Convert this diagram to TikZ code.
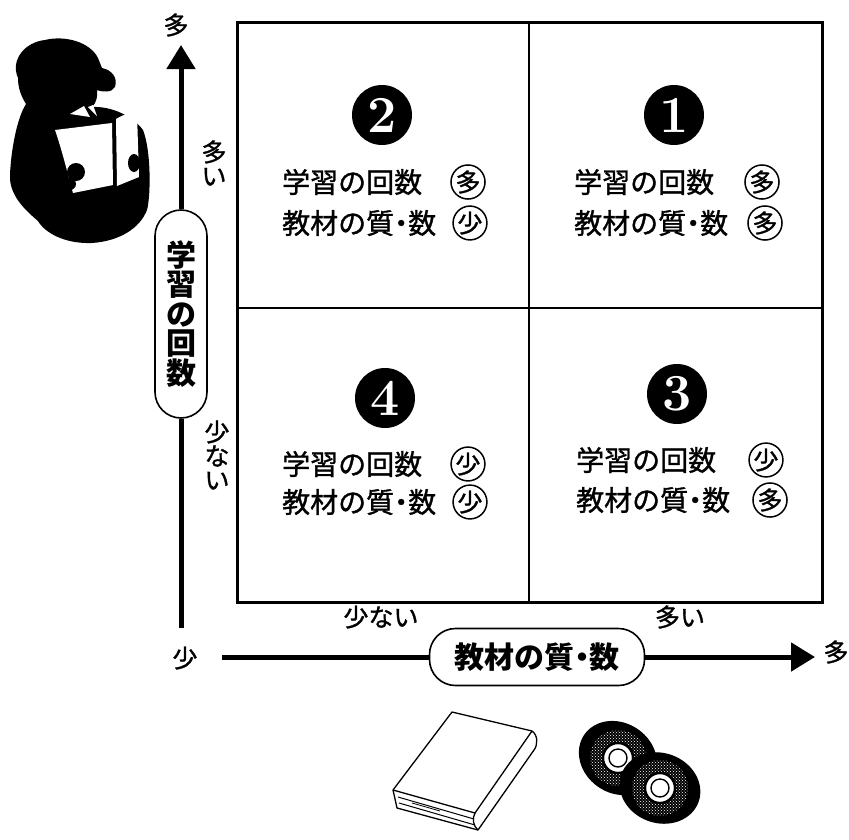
\documentclass[tikz,border=0pt]{standalone}
\usepackage{fontspec}
\newfontfamily\jp{Noto Sans CJK JP}
\newfontfamily\jpmid{Noto Sans CJK JP}[FakeBold=1.2]
\usetikzlibrary{arrows.meta,positioning,patterns}

% narrow middle dot between kanji
\newcommand{\nakaguro}{\kern-.25em・\kern-.25em}

\begin{document}
\begin{tikzpicture}[
    x=1pt, y=-1pt,
    frame/.style = {line width=3pt},
    axis/.style = {line width=5pt},
    axisarrow/.style = {axis, -{Triangle[length=24pt,width=28pt]}},
    axislabel/.style = {draw, line width=1.6pt, fill=white, rounded corners=26pt, align=center, inner sep=0pt, font=\jp\bfseries\fontsize{30}{29.5}\selectfont},
    sidelabel/.style = {align=center, inner sep=0pt, font=\jpmid\fontsize{25}{24}\selectfont},
    qnum/.style = {circle, fill=black, text=white, minimum size=60pt, inner sep=0pt, font=\bfseries\fontsize{52}{52}\selectfont},
    qtext/.style = {anchor=west, inner sep=0pt, font=\jpmid\fontsize{28}{28}\selectfont},
    qmark/.style = {circle, draw, line width=1.5pt, minimum size=33pt, inner sep=0pt, font=\jpmid\fontsize{25}{25}\selectfont},
    line/.style = {line width=1.3pt, line join=round}
]
\useasboundingbox (0,0) rectangle (849,839);

% Grid
\coordinate (nw) at (237,22);
\coordinate (se) at (822,602);
\draw [frame] (nw) rectangle (se);
\draw [frame, line width=1.8pt] (529,22) -- (529,602);
\draw [frame, line width=1.8pt] (237,308) -- (822,308);

% Vertical axis
\node [axislabel, minimum width=52pt, minimum height=208pt] (ylab) at (181,314) {学\\習\\の\\回\\数};
\coordinate (ybot) at (181,628);
\coordinate (ytop) at (181,45);
\draw [axis] (ybot) -- (ylab);
\draw [axisarrow] (ylab) -- (ytop);
\node [sidelabel] (ymax) at (176,25) {多};
\node [sidelabel] (yhigh) at (214,163) {多\\い};
\node [sidelabel] (ylow) at (217,455) {少\\な\\い};

% Horizontal axis
\node [axislabel, minimum width=215pt, minimum height=57pt] (xlab) at (537,657) {教材の質\nakaguro 数};
\coordinate (xleft) at (222,657);
\coordinate (xright) at (815,657);
\draw [axis] (xleft) -- (xlab);
\draw [axisarrow] (xlab) -- (xright);
\node [sidelabel] (xmin) at (185,658) {少};
\node [sidelabel] (xmax) at (836,652) {多};
\node [sidelabel] (xlow) at (381,617) {少ない};
\node [sidelabel] (xhigh) at (680,617) {多い};

% Quadrant 2
\node [qnum] (n2) at (382,115) {2};
\node [qtext] (t2a) at (282,182) {学習の回数};
\node [qmark] (m2a) at (468,182) {多};
\node [qtext] (t2b) at (282,223) {教材の質\nakaguro 数};
\node [qmark] (m2b) at (470,223) {少};

% Quadrant 1
\node [qnum] (n1) at (674,115) {1};
\node [qtext] (t1a) at (574,182) {学習の回数};
\node [qmark] (m1a) at (762,182) {多};
\node [qtext] (t1b) at (574,223) {教材の質\nakaguro 数};
\node [qmark] (m1b) at (765,223) {多};

% Quadrant 4
\node [qnum] (n4) at (385,398) {4};
\node [qtext] (t4a) at (282,464) {学習の回数};
\node [qmark] (m4a) at (468,464) {少};
\node [qtext] (t4b) at (282,502) {教材の質\nakaguro 数};
\node [qmark] (m4b) at (470,502) {少};

% Quadrant 3
\node [qnum] (n3) at (677,394) {3};
\node [qtext] (t3a) at (576,460) {学習の回数};
\node [qmark] (m3a) at (766,460) {少};
\node [qtext] (t3b) at (576,500) {教材の質\nakaguro 数};
\node [qmark] (m3b) at (770,500) {多};

% Reader silhouette
\fill (18,78) .. controls (10,60) and (25,42) .. (45,40)
  .. controls (65,35) and (90,42) .. (98,58)
  -- (102,68) .. controls (112,70) and (118,78) .. (115,87)
  .. controls (112,93) and (102,92) .. (97,90)
  .. controls (98,97) and (96,103) .. (92,107)
  .. controls (110,106) and (132,115) .. (143,130)
  .. controls (151,150) and (151,195) .. (147,210)
  .. controls (140,228) and (120,241) .. (92,243)
  .. controls (65,244) and (45,233) .. (38,221)
  .. controls (25,210) and (9,195) .. (10,175)
  .. controls (11,150) and (17,118) .. (26,104)
  .. controls (21,96) and (18,88) .. (18,78) -- cycle;
\fill [white] (70,114) -- (84,106) -- (90,117) -- cycle;
\fill [white] (88,107) -- (93,105) -- (97,116) -- cycle;
\fill [white] (55,130) -- (112,123) -- (113,185) -- (73,193)
  .. controls (68,175) and (62,150) .. (55,130) -- cycle;
\fill [white] (116,119) .. controls (124,114) and (132,112) .. (137,113)
  -- (139,177) -- (117,186) -- cycle;
\fill (76,172) circle (9pt);
\fill (70,184) circle (6pt);
\fill (134,163) ellipse (6pt and 9pt);

% Book
\draw [line, fill=white] (452,712) -- (532,731)
  .. controls (538,735) and (538,745) .. (534,750)
  -- (478,830) -- (397,808) -- (393,790) -- cycle;
\draw [line] (393,790) -- (475,813) -- (532,731);
\draw [line] (475,813) .. controls (472,818) and (473,826) .. (478,830);
\draw [line, line width=1pt] (398,797) -- (474,819);
\draw [line, line width=1pt] (399,803) -- (475,825);
\draw [line, line width=0.8pt] (412,803) -- (440,811);

% Discs
\foreach \c/\a in {{(618,758)}/-35, {(660,788)}/-20} {
  \fill [rotate around={\a:\c}] \c ellipse (41pt and 35pt);
  \fill [pattern=crosshatch dots, pattern color=white] \c circle (28pt);
  \draw [line width=2.4pt, fill=white] \c circle (15pt);
  \draw [line width=1.4pt] \c circle (9pt);
}

\end{tikzpicture}
\end{document}
